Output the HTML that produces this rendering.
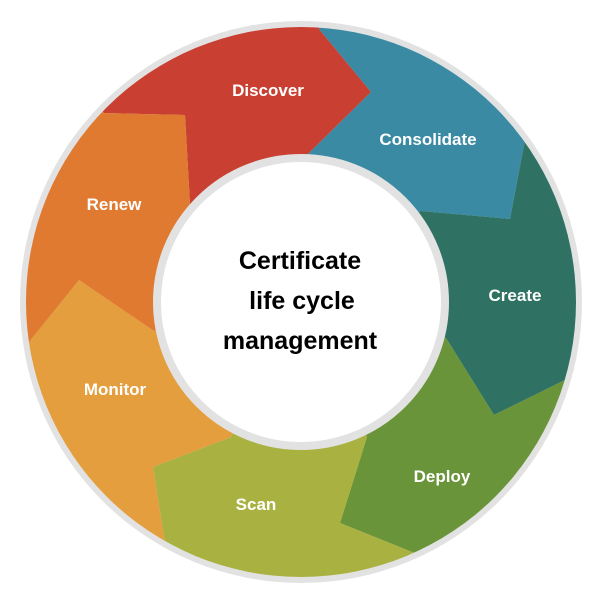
<!DOCTYPE html>
<html><head><style>html,body{margin:0;background:#fff;width:600px;height:600px;overflow:hidden}svg{display:block}</style></head><body>
<svg width="600" height="600" viewBox="0 0 600 600" xmlns="http://www.w3.org/2000/svg">
<defs><clipPath id="c"><circle cx="301" cy="302" r="275"/></clipPath></defs>
<circle cx="301" cy="302" r="281" fill="#e2e2e2"/>
<g clip-path="url(#c)">
<polygon fill="#c93f32" points="301,302 190,204 185,115 104,113 0,0 319,0 319,29 371,92 308,154"/>
<polygon fill="#3a8aa3" points="301,302 308,154 371,92 319,29 319,0 600,0 525,140 510,219 421,211"/>
<polygon fill="#2f7264" points="301,302 421,211 510,219 525,140 600,0 600,420 567,379 494,415 446,338"/>
<polygon fill="#6a9439" points="301,302 446,338 494,415 567,379 600,420 600,600 417,600 417,554 340,523 367,437"/>
<polygon fill="#a9b241" points="301,302 367,437 340,523 417,554 417,600 165,600 165,544 153,467 231,437"/>
<polygon fill="#e59e3d" points="301,302 231,437 153,467 165,544 165,600 0,600 0,342 29,342 79,280 154,331"/>
<polygon fill="#e07a31" points="301,302 154,331 79,280 29,342 0,342 0,0 104,113 185,115 190,204"/>
</g>
<circle cx="301" cy="302" r="144" fill="#fff" stroke="#e2e2e2" stroke-width="8"/>
<g font-family="Liberation Sans, sans-serif" font-weight="bold" fill="#fff" font-size="17" text-anchor="middle">
<text x="268" y="96">Discover</text>
<text x="428" y="145">Consolidate</text>
<text x="515" y="301">Create</text>
<text x="442" y="482">Deploy</text>
<text x="256" y="510">Scan</text>
<text x="115" y="395">Monitor</text>
<text x="114" y="210">Renew</text>
</g>
<g font-family="Liberation Sans, sans-serif" font-weight="bold" fill="#000" font-size="25" text-anchor="middle">
<text x="300" y="269">Certificate</text>
<text x="302" y="309">life cycle</text>
<text x="300" y="349">management</text>
</g>
</svg>
</body></html>
